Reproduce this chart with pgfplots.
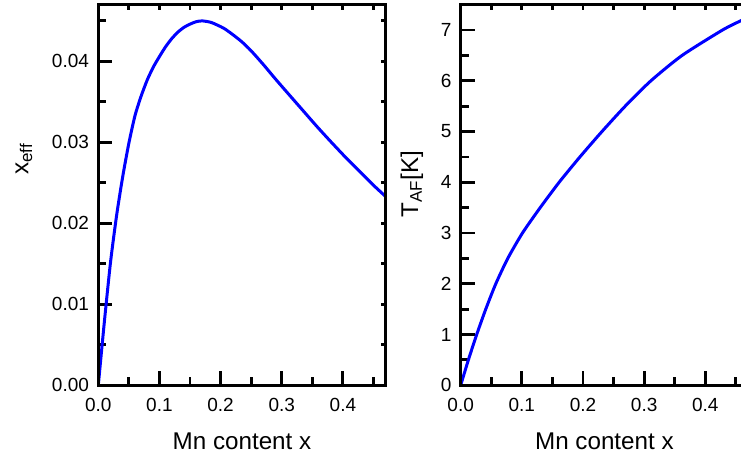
\documentclass[border=0pt]{standalone}
\usepackage{pgfplots}
\pgfplotsset{compat=1.18}
\usepackage{fontspec}
\setmainfont{Liberation Sans}
\begin{document}
\begin{tikzpicture}
\pgfplotsset{
  base/.style={
    scale only axis, width=287.4pt, height=380.5pt, anchor=south west,
    xmin=0, xmax=0.47,
    xtick={0,0.1,0.2,0.3,0.4},
    minor xtick={0.05,0.15,0.25,0.35,0.45},
    tick align=inside,
    line width=3pt,
    axis line style={line width=3pt, line join=miter},
    every tick/.style={line width=2.8pt, black},
    major tick length=14pt, minor tick length=8pt,
    /pgf/number format/assume math mode=true,
    tick label style={font=\fontsize{19}{19}\selectfont},
    label style={font=\fontsize{24.2}{25}\selectfont},
    scaled ticks=false,
    xticklabel style={yshift=-8pt,/pgf/number format/.cd, fixed, fixed zerofill, precision=1},
    yticklabel style={xshift=-4.5pt},
    xtick pos=left, ytick pos=left,
    clip=true,
  },
  mirror/.style={
    scale only axis, width=287.4pt, height=380.5pt, anchor=south west,
    xmin=0, xmax=0.47,
    xtick={0,0.05,...,0.46},
    tick align=inside,
    line width=3pt,
    axis line style={line width=3pt, line join=miter},
    every tick/.style={line width=2.8pt, black},
    major tick length=5pt,
    scaled ticks=false,
    xticklabel={\mbox{}}, yticklabel={\mbox{}},
    xtick pos=right, ytick pos=right,
  },
}
% ---------------- left panel ----------------
\begin{axis}[base, at={(98.3pt,73.8pt)},
  ymin=0, ymax=0.047,
  ytick={0,0.01,0.02,0.03,0.04},
  minor ytick={0.005,0.015,0.025,0.035,0.045},
  yticklabel style={/pgf/number format/.cd, fixed, fixed zerofill, precision=2},
  ylabel={x\textsubscript{eff}},
  ylabel style={at={(rel axis cs:-0.2585,0.5945)}, anchor=center},
  xlabel={Mn content x},
  xlabel style={at={(rel axis cs:0.5,-0.168)}, anchor=base},
]
\addplot[blue, line width=3pt, smooth, tension=0.4] coordinates {
 (0,0) (0.01,0.0079) (0.02,0.0152) (0.03,0.0210) (0.04,0.0258)
 (0.05,0.0299) (0.06,0.0333) (0.07,0.0357) (0.08,0.0377) (0.09,0.0393)
 (0.10,0.0406) (0.11,0.0418) (0.12,0.0428) (0.13,0.0436) (0.14,0.0442)
 (0.15,0.0446) (0.16,0.0449) (0.17,0.0450) (0.185,0.0448)
 (0.205,0.0441) (0.22,0.0433) (0.235,0.0424) (0.25,0.0413) (0.27,0.0396)
 (0.29,0.0378) (0.313,0.0358) (0.335,0.0339) (0.357,0.0320) (0.38,0.0301)
 (0.405,0.0281) (0.43,0.0262) (0.45,0.0247) (0.47,0.0233)
};
\end{axis}
\begin{axis}[mirror, at={(98.3pt,73.8pt)},
  ymin=0, ymax=0.047, ytick={0,0.005,...,0.046}]
\end{axis}
% ---------------- right panel ----------------
\begin{axis}[base, at={(460.7pt,73.8pt)},
  ymin=0, ymax=7.5,
  ytick={0,1,2,3,4,5,6,7},
  minor ytick={0.5,1.5,2.5,3.5,4.5,5.5,6.5},
  ylabel={T\textsubscript{AF}[K]},
  ylabel style={at={(rel axis cs:-0.1696,0.5288)}, anchor=center},
  xlabel={Mn content x},
  xlabel style={at={(rel axis cs:0.5,-0.168)}, anchor=base},
]
\addplot[blue, line width=3pt, smooth, tension=0.4] coordinates {
 (0,0) (0.0126,0.5) (0.0262,1) (0.041,1.5) (0.0574,2) (0.077,2.5)
 (0.101,3) (0.130,3.5) (0.161,4) (0.195,4.5) (0.231,5) (0.269,5.5)
 (0.311,6) (0.362,6.5) (0.428,7) (0.459,7.19) (0.47,7.26)
};
\end{axis}
\begin{axis}[mirror, at={(460.7pt,73.8pt)},
  ymin=0, ymax=7.5, ytick=\empty]
\end{axis}
\pgfresetboundingbox
\path (0,0) rectangle (741pt,459pt);
\end{tikzpicture}
\end{document}
